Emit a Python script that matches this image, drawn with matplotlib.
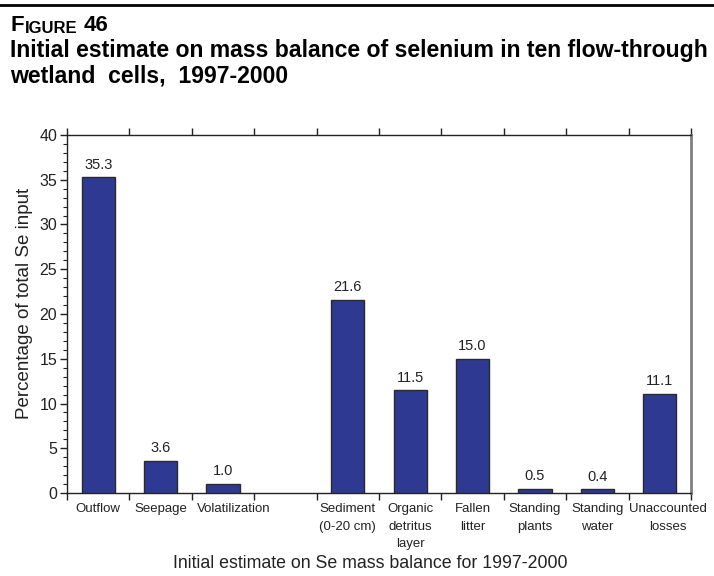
import matplotlib
matplotlib.use("Agg")
import matplotlib.pyplot as plt
import matplotlib.transforms as mtransforms
from matplotlib.ticker import MultipleLocator, FixedLocator, NullFormatter
from matplotlib.lines import Line2D

# Selenium mass balance components (% of total Se input); None marks the spacer slot
categories = ["Outflow", "Seepage", "Volatilization", "",
              "Sediment\n(0-20 cm)", "Organic\ndetritus\nlayer", "Fallen\nlitter",
              "Standing\nplants", "Standing\nwater", "Unaccounted\nlosses"]
values = [35.3, 3.6, 1.0, None, 21.6, 11.5, 15.0, 0.5, 0.4, 11.1]

W, H = 714, 576
fig = plt.figure(figsize=(W / 100, H / 100), dpi=100)
plt.rcParams["font.family"] = ["Liberation Sans", "DejaVu Sans"]
ink = "#222222"

# Header rule and caption
fig.add_artist(Line2D([0, 1], [1 - 5.3 / H, 1 - 5.3 / H], color="black", lw=2,
                      transform=fig.transFigure))

ax = fig.add_axes([67 / W, 1 - 493 / H, 624 / W, 358 / H])

t_f = fig.text(11 / W, 1 - 31 / H, "F", weight="bold", fontsize=16, va="baseline",
               color="black")
t_ig = ax.annotate("IGURE", xy=(1, 0), xycoords=t_f, xytext=(0.3, 0),
                   textcoords="offset points", weight="bold", fontsize=12,
                   va="bottom", ha="left", annotation_clip=False)
ax.annotate("46", xy=(1, 0), xycoords=t_ig, xytext=(4, 0),
            textcoords="offset points", weight="bold", fontsize=16,
            va="bottom", ha="left", annotation_clip=False)
fig.text(10 / W, 1 - 57 / H,
         "Initial estimate on mass balance of selenium in ten flow-through",
         weight="bold", fontsize=16.6, va="baseline")
fig.text(10 / W, 1 - 83 / H, "wetland  cells,  1997-2000",
         weight="bold", fontsize=16.6, va="baseline")

x = list(range(len(categories)))
bar_x = [i for i, v in zip(x, values) if v is not None]
bar_v = [v for v in values if v is not None]
ax.bar(bar_x, bar_v, width=0.53, color="#2E3A92", edgecolor="#2a2a2a", linewidth=1,
       zorder=3)
for xi, v in zip(bar_x, bar_v):
    ax.annotate(f"{v:.1f}", xy=(xi, v), xytext=(0, 4), textcoords="offset points",
                ha="center", va="bottom", fontsize=10.5, color=ink)

ax.set_xlim(-0.5, len(categories) - 0.5)
ax.set_ylim(0, 40)
ax.yaxis.set_major_locator(MultipleLocator(5))
ax.yaxis.set_minor_locator(MultipleLocator(1))
ax.tick_params(axis="y", which="major", length=5, width=1, labelsize=11.5,
               direction="out", colors=ink, pad=2)
ax.tick_params(axis="y", which="minor", length=3, width=0.8, direction="out",
               colors=ink)

# Ticks mark category boundaries; labels sit at slot centres
ax.xaxis.set_major_locator(FixedLocator([i - 0.5 for i in range(len(categories) + 1)]))
ax.xaxis.set_major_formatter(NullFormatter())
ax.xaxis.set_minor_locator(FixedLocator(x))
ax.set_xticklabels(categories, minor=True, fontsize=9.5, linespacing=1.65, va="top")
ax.tick_params(axis="x", which="minor", length=0, pad=7, colors=ink)
ax.tick_params(axis="x", which="major", length=5, width=1, direction="out",
               top=True, bottom=True, colors=ink)

# Nudge the two widest labels right so they clear their neighbours
nudge_pts = {"Volatilization": 7.5, "Unaccounted\nlosses": 5.5}
for lbl in ax.xaxis.get_minorticklabels():
    dx = nudge_pts.get(lbl.get_text())
    if dx:
        lbl.set_transform(lbl.get_transform() +
                          mtransforms.ScaledTranslation(dx / 72, 0, fig.dpi_scale_trans))

for s in ("left", "bottom", "top"):
    ax.spines[s].set_color(ink)
    ax.spines[s].set_linewidth(1)
ax.spines["right"].set_color("#808080")
ax.spines["right"].set_linewidth(2)

ax.set_ylabel("Percentage of total Se input", fontsize=13.5, color=ink)
ax.yaxis.set_label_coords((25 - 67) / 624, 0.53)
ax.yaxis.label.set_va("center")
ax.set_xlabel("Initial estimate on Se mass balance for 1997-2000", fontsize=12.8,
              color=ink)
ax.xaxis.set_label_coords((370 - 67) / 624, (493 - 564) / 358)
ax.xaxis.label.set_va("center")

fig.savefig("out.png", dpi=100)
